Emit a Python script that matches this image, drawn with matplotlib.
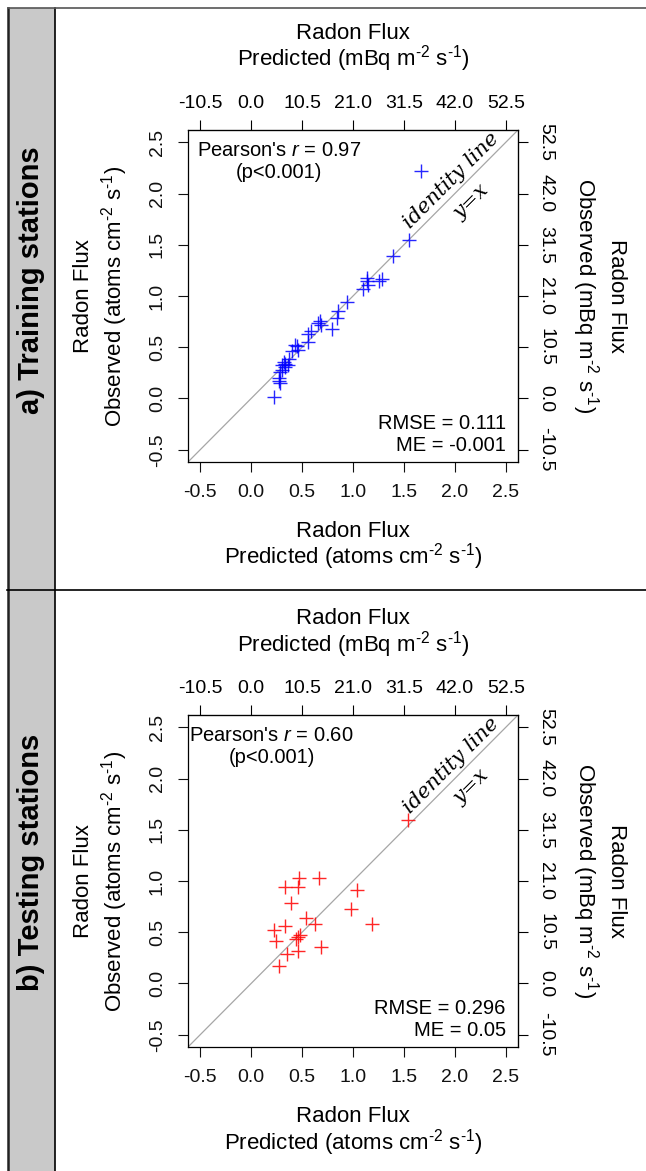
import matplotlib
matplotlib.use("Agg")
import matplotlib.pyplot as plt
from matplotlib.patches import Rectangle
from matplotlib.lines import Line2D

W, H = 646, 1171

plt.rcParams['font.family'] = ['Liberation Sans', 'DejaVu Sans']
plt.rcParams['mathtext.fontset'] = 'custom'
plt.rcParams['mathtext.rm'] = 'Liberation Sans'
plt.rcParams['mathtext.it'] = 'Liberation Sans:italic'
plt.rcParams['mathtext.default'] = 'regular'

# valeurs (atoms cm-2 s-1)
train_pred = [1.67, 1.55, 1.39, 1.28, 1.26, 1.14, 1.15, 1.10, 1.14, 0.94, 0.85, 0.84,
              0.79, 0.68, 0.66, 0.69, 0.59, 0.56, 0.56, 0.45, 0.46, 0.43, 0.40, 0.32,
              0.30, 0.33, 0.36, 0.28, 0.27, 0.28, 0.27, 0.22, 0.30, 0.33, 0.37]
train_obs = [2.22, 1.55, 1.39, 1.17, 1.15, 1.15, 1.11, 1.07, 1.18, 0.94, 0.85, 0.79,
             0.68, 0.76, 0.74, 0.72, 0.66, 0.63, 0.55, 0.51, 0.47, 0.52, 0.46, 0.36,
             0.33, 0.31, 0.33, 0.26, 0.17, 0.15, 0.20, 0.01, 0.28, 0.34, 0.39]

test_pred = [1.54, 0.67, 0.47, 0.46, 0.33, 0.39, 1.04, 0.98, 1.19, 0.54, 0.63, 0.33,
             0.22, 0.24, 0.48, 0.46, 0.44, 0.69, 0.46, 0.35, 0.27]
test_obs = [1.60, 1.03, 1.03, 0.94, 0.94, 0.79, 0.91, 0.73, 0.58, 0.64, 0.58, 0.56,
            0.52, 0.41, 0.47, 0.45, 0.43, 0.36, 0.32, 0.29, 0.17]

ticks = [-0.5, 0.0, 0.5, 1.0, 1.5, 2.0, 2.5]
tick_labels = ['-0.5', '0.0', '0.5', '1.0', '1.5', '2.0', '2.5']
mbq_ticks = [-10.5, 0.0, 10.5, 21.0, 31.5, 42.0, 52.5]
mbq_labels = ['-10.5', '0.0', '10.5', '21.0', '31.5', '42.0', '52.5']
factor = 21.0

UNIT_MBQ = 'mBq m$^{\\text{-}2}$ s$^{\\text{-}1}$'
UNIT_ATOMS = 'atoms cm$^{\\text{-}2}$ s$^{\\text{-}1}$'


def fx(x):
    return x / W


def fy(y):
    return 1 - y / H


fig = plt.figure(figsize=(W / 100, H / 100), dpi=100)

# bandeau gris a gauche + cadres
fig.add_artist(Rectangle((fx(8), 0), fx(55) - fx(8), fy(8), facecolor='#c9c9c9',
                         edgecolor='none', transform=fig.transFigure))
fig.add_artist(Line2D([fx(8), fx(8)], [0, fy(8)], color='#222222', lw=1.8))
fig.add_artist(Line2D([fx(55), fx(55)], [0, fy(8)], color='black', lw=1.2))
fig.add_artist(Line2D([fx(8), 1], [fy(8), fy(8)], color='#555555', lw=1.2))
fig.add_artist(Line2D([fx(7), 1], [fy(590), fy(590)], color='black', lw=1.2))

TICK_FS = 14
LAB_FS = 16
TXT_FS = 14.5


def draw_panel(top, pred, obs, color, label, label_y, r_txt, r_x, rmse_txt, me_txt):
    bottom = top + 332
    ax = fig.add_axes([fx(188), fy(bottom), 330 / W, 332 / H])
    ax.set_xlim(-0.62, 2.62)
    ax.set_ylim(-0.62, 2.62)
    ax.plot([-0.62, 2.62], [-0.62, 2.62], color='#a6a6a6', lw=0.9, zorder=1)
    ax.plot(pred, obs, ls='none', marker='+', ms=10, mew=1.0, color=color,
            alpha=0.85, zorder=2)

    ax.set_xticks(ticks, labels=tick_labels)
    ax.set_yticks(ticks, labels=tick_labels)
    ax.tick_params(direction='out', length=7, width=0.8, labelsize=TICK_FS,
                   colors='#111111')
    ax.tick_params(axis='x', pad=9)
    ax.tick_params(axis='y', pad=9)
    for t in ax.get_yticklabels():
        t.set_rotation(90)
        t.set_va('center')
    for s in ax.spines.values():
        s.set_linewidth(0.9)

    secx = ax.secondary_xaxis('top', functions=(lambda v: v * factor, lambda v: v / factor))
    secx.set_xticks(mbq_ticks, labels=mbq_labels)
    secx.tick_params(direction='out', length=7, width=0.8, labelsize=TICK_FS, pad=6)
    secy = ax.secondary_yaxis('right', functions=(lambda v: v * factor, lambda v: v / factor))
    secy.set_yticks(mbq_ticks, labels=mbq_labels)
    secy.tick_params(direction='out', length=7, width=0.8, labelsize=TICK_FS, pad=7)
    for t in secy.get_yticklabels():
        t.set_rotation(-90)
        t.set_va('center')

    # textes dans le graphique
    ax.text(r_x, 2.42, "Pearson's $\\it{r}$ = " + r_txt, ha='center', va='center',
            fontsize=TXT_FS)
    ax.text(r_x, 2.21, '(p<0.001)', ha='center', va='center', fontsize=TXT_FS)
    ax.text(2.5, -0.24, rmse_txt, ha='right', va='center', fontsize=TXT_FS)
    ax.text(2.5, -0.46, me_txt, ha='right', va='center', fontsize=TXT_FS)
    ax.text(1.96, 2.13, 'identity line', rotation=45, rotation_mode='anchor',
            ha='center', va='center', family='DejaVu Serif', style='italic', fontsize=15)
    ax.text(2.16, 1.92, 'y=x', rotation=45, rotation_mode='anchor',
            ha='center', va='center', family='DejaVu Serif', style='italic', fontsize=15)

    # titres des axes
    cx = fx(353)
    cy = fy(top + 166)
    fig.text(cx, fy(top - 91), 'Radon Flux', ha='center', va='baseline', fontsize=LAB_FS)
    fig.text(cx, fy(top - 64), 'Predicted (' + UNIT_MBQ + ')', ha='center',
             va='baseline', fontsize=LAB_FS)
    fig.text(cx, fy(bottom + 75), 'Radon Flux', ha='center', va='baseline', fontsize=LAB_FS)
    fig.text(cx, fy(bottom + 102), 'Predicted (' + UNIT_ATOMS + ')', ha='center',
             va='baseline', fontsize=LAB_FS)
    fig.text(fx(89), cy, 'Radon Flux', rotation=90, rotation_mode='anchor',
             ha='center', va='baseline', fontsize=LAB_FS)
    fig.text(fx(122), cy, 'Observed (' + UNIT_ATOMS + ')', rotation=90,
             rotation_mode='anchor', ha='center', va='baseline', fontsize=LAB_FS)
    fig.text(fx(578), cy, 'Observed (' + UNIT_MBQ + ')', rotation=-90,
             rotation_mode='anchor', ha='center', va='baseline', fontsize=LAB_FS)
    fig.text(fx(611), cy, 'Radon Flux', rotation=-90, rotation_mode='anchor',
             ha='center', va='baseline', fontsize=LAB_FS)

    fig.text(fx(31), fy(label_y), label, rotation=90, ha='center', va='center',
             fontsize=21, fontweight='bold')
    return ax


draw_panel(130, train_pred, train_obs, 'blue', 'a) Training stations', 280,
           '0.97', 0.27, 'RMSE = 0.111', 'ME = -0.001')
draw_panel(715, test_pred, test_obs, 'red', 'b) Testing stations', 862,
           '0.60', 0.20, 'RMSE = 0.296', 'ME = 0.05')

fig.savefig('out.png', dpi=100)
